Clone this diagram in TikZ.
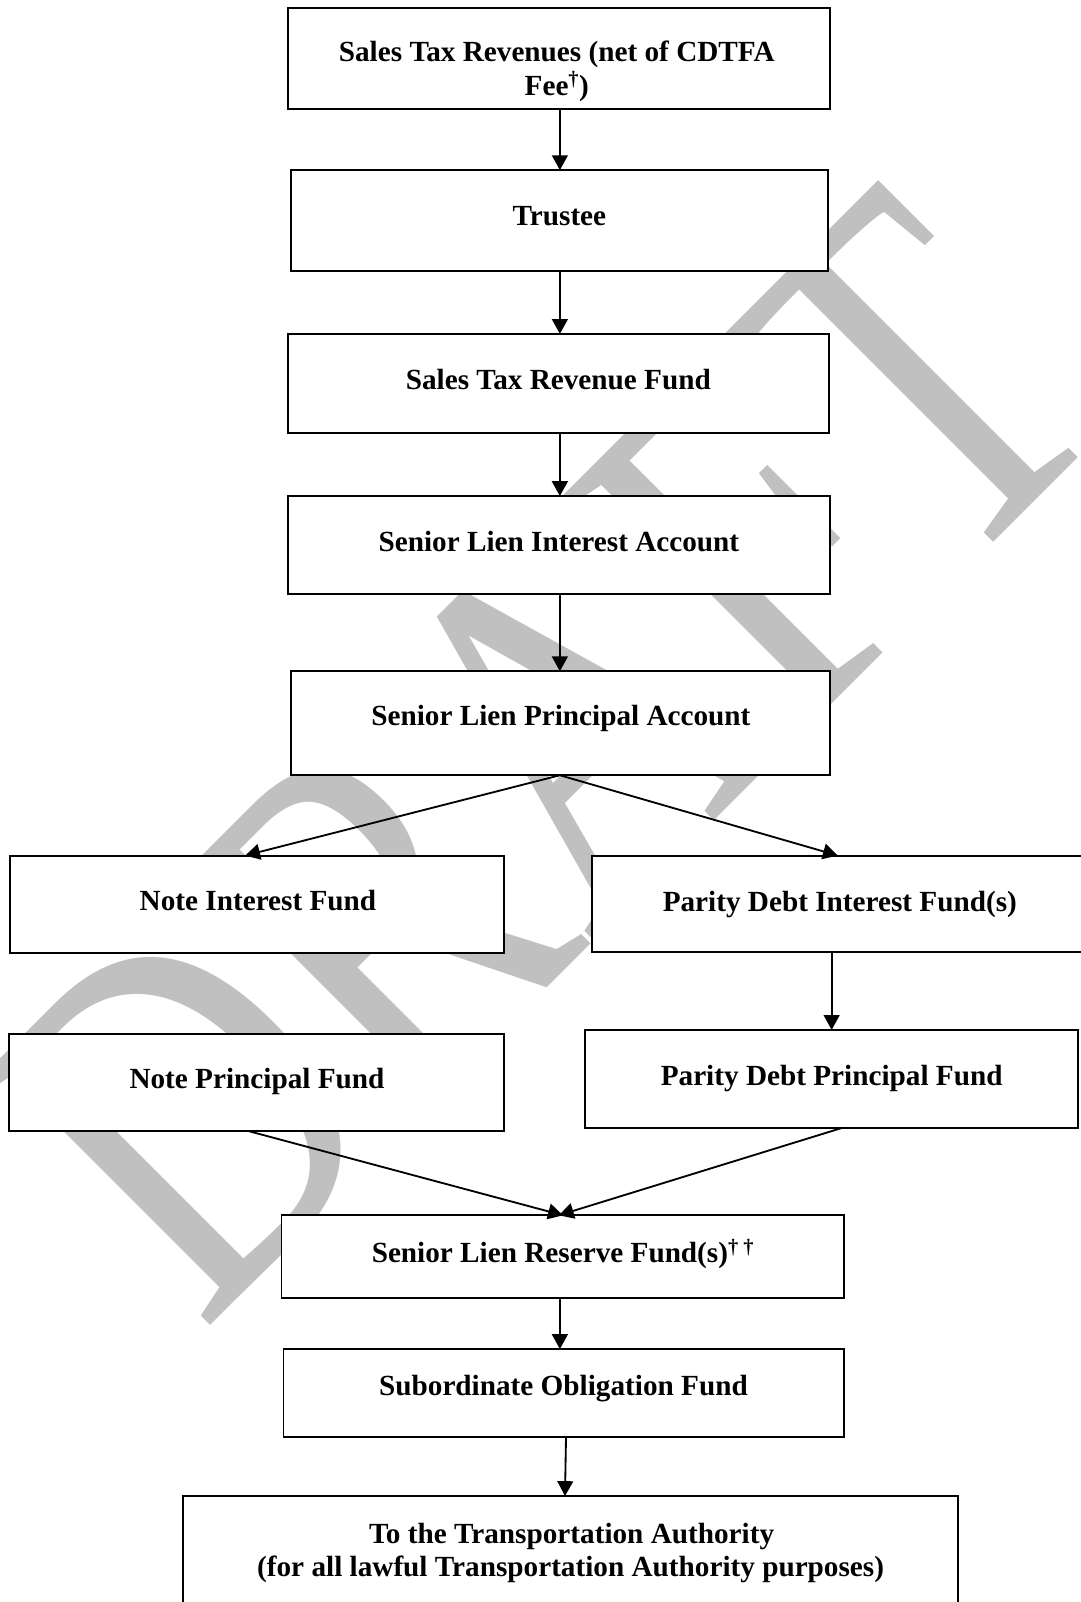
\documentclass[tikz,border=0pt]{standalone}
\usepackage{fontspec}
\setmainfont{Liberation Serif}
\usetikzlibrary{arrows.meta}
\definecolor{wmgray}{RGB}{192,192,192}
\tikzset{
  box/.style={draw=black, fill=white, line width=1.9pt, inner sep=0pt, outer sep=0pt, rectangle},
  lbl/.style={anchor=base, inner sep=0pt, font=\fontsize{28.6}{33}\selectfont\bfseries},
  arr/.style={line width=1.8pt, -{Triangle[length=14.5pt,width=15.5pt]}},
  wm/.style={text=wmgray, inner sep=0pt, anchor=base west, rotate=45, font=\fontsize{504}{504}\selectfont}
}
\begin{document}
\begin{tikzpicture}[x=1pt,y=1pt]
\useasboundingbox (0,0) rectangle (1058,-1568);
\fill[white] (0,0) rectangle (1058,-1568);
% watermark
\node[wm] (wmk) at (198,-1305) {\scalebox{0.77}[1]{DRAFT}};
% boxes
\node[box, minimum width=530.5pt, minimum height=99pt]   (src)     at (546.75,-57) {};
\node[box, minimum width=525pt,   minimum height=99pt]   (trustee) at (547.5,-216) {};
\node[box, minimum width=529pt,   minimum height=97.4pt] (strf)    at (546.5,-375.5) {};
\node[box, minimum width=530pt,   minimum height=96pt]   (slia)    at (547,-533.5) {};
\node[box, minimum width=527pt,   minimum height=101.8pt](slpa)    at (548.5,-707.9) {};
\node[box, minimum width=484.1pt, minimum height=95.3pt] (nif)     at (251.65,-885.05) {};
\node[box, minimum width=480.3pt, minimum height=94.1pt] (pdif)    at (819.85,-884.45) {};
\node[box, minimum width=485pt,   minimum height=95.2pt] (npf)     at (251.2,-1059.4) {};
\node[box, minimum width=482.6pt, minimum height=95.7pt] (pdpf)    at (813.7,-1055.85) {};
\node[box, minimum width=551pt,   minimum height=81.3pt] (slrf)    at (551,-1230.15) {};
\node[box, minimum width=548.3pt, minimum height=85.8pt] (sof)     at (551.65,-1363.3) {};
\node[box, minimum width=758.3pt, minimum height=155.8pt](tta)     at (558.65,-1542.1) {};
% labels
\node[lbl] (t1a) at (545,-60.4) {Sales Tax Revenues (net of CDTFA};
\node[lbl] (t1b) at (545,-93) {Fee\textsuperscript{†})};
\node[lbl] (t2) at (547.5,-221) {Trustee};
\node[lbl] (t3) at (546.5,-381.4) {Sales Tax Revenue Fund};
\node[lbl] (t4) at (547,-540) {Senior Lien Interest Account};
\node[lbl] (t5) at (549,-710.4) {Senior Lien Principal Account};
\node[lbl] (t6) at (252.5,-890.7) {Note Interest Fund};
\node[lbl] (t7) at (822,-892.3) {Parity Debt Interest Fund(s)};
\node[lbl] (t8) at (251.5,-1065.5) {Note Principal Fund};
\node[lbl] (t9) at (814,-1062) {Parity Debt Principal Fund};
\node[lbl] (t10) at (551,-1235.5) {Senior Lien Reserve Fund(s)\textsuperscript{† †}};
\node[lbl] (t11) at (551.5,-1365.4) {Subordinate Obligation Fund};
\node[lbl] (t12a) at (559.5,-1510.5) {To the Transportation Authority};
\node[lbl] (t12b) at (558.5,-1543.2) {(for all lawful Transportation Authority purposes)};
% connector x positions
\coordinate (cx) at (548,0);
\coordinate (nifTip) at (240,0);
\coordinate (pdTip) at (820,0);
\coordinate (px) at (814,0);
\coordinate (npS) at (243,0);
\coordinate (rL) at (551,0);
\coordinate (ppS) at (825,0);
\coordinate (rR) at (547,0);
\coordinate (s1) at (554,0);
\coordinate (s2) at (553,0);
% connectors
\draw[arr] (src.south -| cx) -- (trustee.north -| cx);
\draw[arr] (trustee.south -| cx) -- (strf.north -| cx);
\draw[arr] (strf.south -| cx) -- (slia.north -| cx);
\draw[arr] (slia.south -| cx) -- (slpa.north -| cx);
\draw[arr] (slpa.south -| cx) -- (nif.north -| nifTip);
\draw[arr] (slpa.south -| cx) -- (pdif.north -| pdTip);
\draw[arr] (pdif.south -| px) -- (pdpf.north -| px);
\draw[arr] (npf.south -| npS) -- (slrf.north -| rL);
\draw[arr] (pdpf.south -| ppS) -- (slrf.north -| rR);
\draw[arr] (slrf.south -| cx) -- (sof.north -| cx);
\draw[arr] (sof.south -| s1) -- (tta.north -| s2);
\end{tikzpicture}
\end{document}
